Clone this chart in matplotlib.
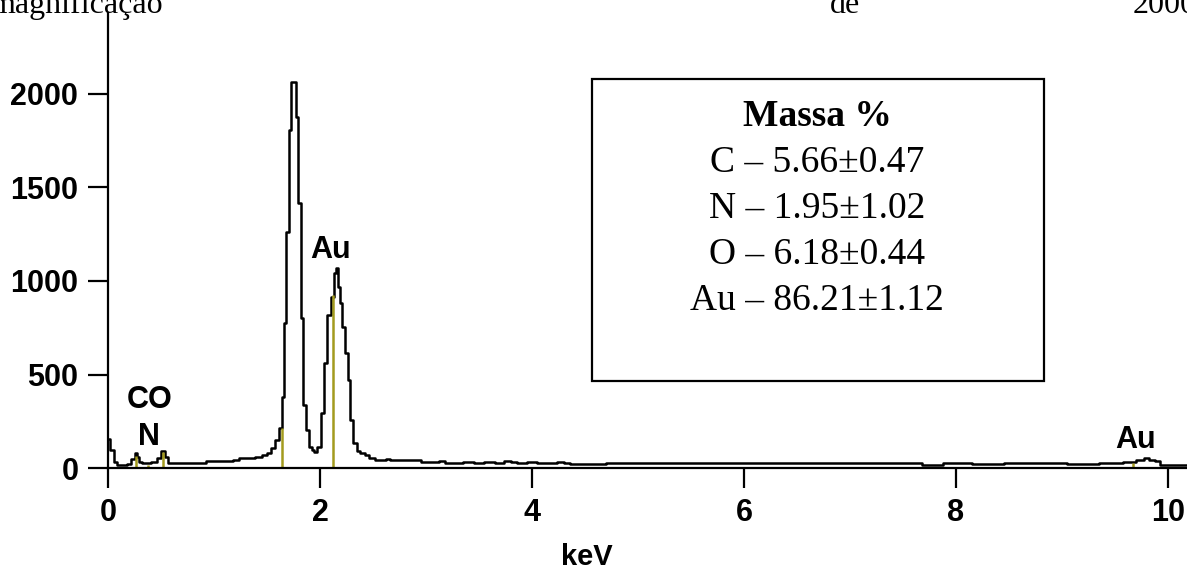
import matplotlib
matplotlib.use("Agg")
import matplotlib.pyplot as plt

# EDS spectrum (keV, counts)
energia = [0.00, 0.04, 0.07, 0.10, 0.15, 0.20, 0.24, 0.26, 0.28, 0.30, 0.34, 0.38,
           0.44, 0.48, 0.52, 0.55, 0.58, 0.70, 0.85, 1.00, 1.10, 1.15, 1.20, 1.27,
           1.35, 1.42, 1.48, 1.52, 1.56, 1.60, 1.63, 1.66, 1.67, 1.69, 1.72, 1.74,
           1.76, 1.78, 1.81, 1.83, 1.85, 1.88, 1.91, 1.93, 1.96, 1.99, 2.02, 2.05,
           2.09, 2.12, 2.14, 2.16, 2.18, 2.20, 2.22, 2.25, 2.27, 2.30, 2.33, 2.36,
           2.40, 2.44, 2.48, 2.55, 2.60, 2.65, 2.68, 2.75, 2.80, 2.90, 3.00, 3.10,
           3.15, 3.20, 3.30, 3.40, 3.50, 3.60, 3.70, 3.78, 3.82, 3.90, 4.00, 4.10,
           4.20, 4.28, 4.32, 4.40, 4.60, 4.80, 5.00, 5.50, 6.00, 6.50, 7.00, 7.50,
           7.85, 7.90, 8.00, 8.30, 8.60, 8.90, 9.20, 9.50, 9.65, 9.75, 9.80, 9.85,
           9.90, 9.95, 10.20]
contagens = [155, 96, 32, 16, 14, 20, 50, 80, 60, 30, 25, 28,
             30, 55, 90, 60, 27, 27, 27, 37, 37, 40, 42, 52,
             55, 58, 68, 80, 105, 150, 214, 380, 775, 1262, 1807, 2064,
             2064, 1877, 1417, 802, 337, 203, 112, 96, 86, 112, 294, 561,
             818, 914, 1043, 1070, 968, 882, 754, 615, 470, 257, 134, 90,
             80, 70, 53, 45, 43, 50, 43, 45, 43, 43, 32, 30,
             35, 28, 27, 30, 27, 30, 27, 35, 30, 27, 30, 25,
             25, 30, 25, 21, 21, 25, 25, 25, 25, 25, 25, 25,
             18, 25, 25, 22, 27, 25, 22, 25, 30, 45, 53, 45,
             35, 15, 15]

# element marker lines
linhas_e = [0.26, 0.38, 0.52, 1.64, 2.12, 9.67]
linhas_h = [64, 16, 86, 214, 925, 25]

# peak labels
rot_txt = ["CO", "N", "Au", "Au"]
rot_x = [0.39, 0.39, 2.10, 9.69]
rot_y = [362, 165, 1165, 150]

massa = ["C \u2013 5.66\u00b10.47", "N \u2013 1.95\u00b11.02",
         "O \u2013 6.18\u00b10.44", "Au \u2013 86.21\u00b11.12"]

W, H = 1187, 570
fig = plt.figure(figsize=(W / 100, H / 100), dpi=100)


def fx(x):
    return x / W


def fy(y):
    return 1 - y / H


ax = fig.add_axes([fx(108), fy(468), (W - 108) / W, (468 - 13) / H])
ax.plot(energia, contagens, color="black", lw=1.8, drawstyle="steps-mid")
ax.vlines(linhas_e, 0, linhas_h, color="#a39b1e", lw=1.8)

sans = ["Liberation Sans", "DejaVu Sans"]
serif = ["Liberation Serif", "DejaVu Serif"]
for t, x, y in zip(rot_txt, rot_x, rot_y):
    ax.text(x, y, t, ha="center", va="center", fontsize=22, fontweight="bold", family=sans)

ax.set_xlim(0, (W - 108) / 106)
ax.set_ylim(0, 455 / 0.187)
ax.set_xticks([0, 2, 4, 6, 8, 10])
ax.set_yticks([0, 500, 1000, 1500, 2000])
for s in ["top", "right"]:
    ax.spines[s].set_visible(False)
for s in ["left", "bottom"]:
    ax.spines[s].set_linewidth(1.6)
ax.tick_params(length=14.4, width=1.6, pad=7, labelsize=22)
for lab in ax.get_xticklabels() + ax.get_yticklabels():
    lab.set_fontweight("bold")
    lab.set_family(sans)
ax.set_xlabel("keV", fontsize=21, fontweight="bold", family=sans)
ax.xaxis.set_label_coords((587 - 108) / (W - 108), (468 - 543) / 455)

# box with mass percentages
box = plt.Rectangle((fx(592), fy(381)), (1044 - 592) / W, (381 - 79) / H,
                    transform=fig.transFigure, fill=False, lw=1.6, ec="black")
fig.patches.append(box)
fig.text(fx(817), fy(117), "Massa %", ha="center", va="center", fontsize=27,
         fontweight="bold", family=serif)
for i, t in enumerate(massa):
    fig.text(fx(817), fy(163 + 46 * i), t, ha="center", va="center", fontsize=27, family=serif)

# cut-off line of text above the figure (cut in the original too)
fig.text(fx(163), fy(13), "magnificação", ha="right", va="baseline", fontsize=23, family=serif)
fig.text(fx(845), fy(13), "de", ha="center", va="baseline", fontsize=23, family=serif)
fig.text(fx(1133), fy(13), "2000", ha="left", va="baseline", fontsize=23, family=serif)

fig.savefig("out.png", dpi=100)
